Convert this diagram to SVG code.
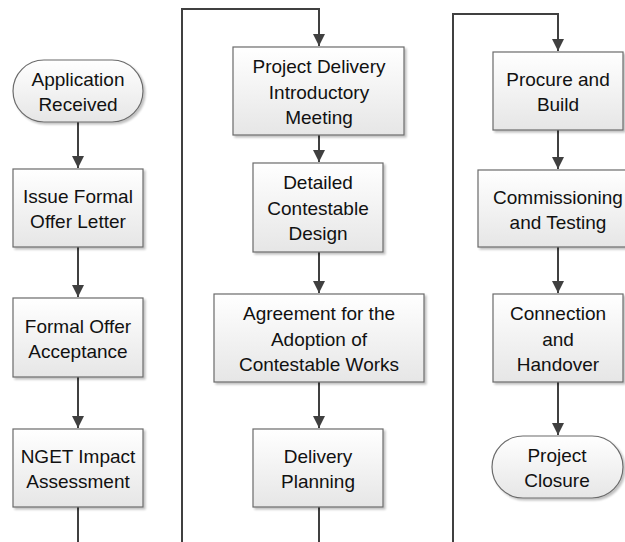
<svg xmlns="http://www.w3.org/2000/svg" width="625" height="542" viewBox="0 0 625 542">
<style>
.n{fill:url(#g);stroke:#6b6b6b;stroke-width:1.2;filter:url(#sh)}
.t{font-family:"Liberation Sans",Arial,sans-serif;font-size:19px;fill:#111;text-anchor:middle}
.c{fill:none;stroke:#404040;stroke-width:2}
</style>
<defs>
<linearGradient id="g" x1="0" y1="0" x2="0" y2="1">
<stop offset="0" stop-color="#ffffff"/>
<stop offset="1" stop-color="#e6e6e6"/>
</linearGradient>
<filter id="sh" x="-10%" y="-10%" width="130%" height="130%">
<feGaussianBlur in="SourceAlpha" stdDeviation="1"/>
<feOffset dx="2" dy="2" result="b"/>
<feComponentTransfer><feFuncA type="linear" slope="0.25"/></feComponentTransfer>
<feMerge><feMergeNode/><feMergeNode in="SourceGraphic"/></feMerge>
</filter>
<marker id="a" markerUnits="userSpaceOnUse" markerWidth="12" markerHeight="14" refX="12" refY="6" orient="auto">
<path d="M0,0 L12,6 L0,12 Z" fill="#404040"/>
</marker>
</defs>
<rect width="625" height="542" fill="#fff"/>
<g id="connectors">
<path class="c" d="M78,122 V168" marker-end="url(#a)"/>
<path class="c" d="M78,247 V297" marker-end="url(#a)"/>
<path class="c" d="M78,377 V428" marker-end="url(#a)"/>
<path class="c" d="M78,507 V542"/>
<path class="c" d="M182,542 V9 H319 V46" marker-end="url(#a)"/>
<path class="c" d="M319,135 V162" marker-end="url(#a)"/>
<path class="c" d="M319,252 V293" marker-end="url(#a)"/>
<path class="c" d="M319,382 V428" marker-end="url(#a)"/>
<path class="c" d="M319,507 V542"/>
<path class="c" d="M453,542 V14 H558 V51" marker-end="url(#a)"/>
<path class="c" d="M558,130 V169" marker-end="url(#a)"/>
<path class="c" d="M558,247 V293" marker-end="url(#a)"/>
<path class="c" d="M558,382 V435" marker-end="url(#a)"/>
</g>
<g id="n1"><rect class="n" x="13" y="60" width="130" height="62" rx="31"/><text class="t"><tspan x="78" y="86">Application</tspan><tspan x="78" y="111">Received</tspan></text></g>
<g id="n2"><rect class="n" x="13" y="169" width="130" height="78"/><text class="t"><tspan x="78" y="203">Issue Formal</tspan><tspan x="78" y="228">Offer Letter</tspan></text></g>
<g id="n3"><rect class="n" x="13" y="298" width="130" height="79"/><text class="t"><tspan x="78" y="333">Formal Offer</tspan><tspan x="78" y="358">Acceptance</tspan></text></g>
<g id="n4"><rect class="n" x="13" y="429" width="130" height="78"/><text class="t"><tspan x="78" y="463">NGET Impact</tspan><tspan x="78" y="488">Assessment</tspan></text></g>
<g id="n5"><rect class="n" x="233" y="47" width="171" height="88"/><text class="t"><tspan x="319" y="73">Project Delivery</tspan><tspan x="319" y="99">Introductory</tspan><tspan x="319" y="124">Meeting</tspan></text></g>
<g id="n6"><rect class="n" x="253" y="163" width="130" height="89"/><text class="t"><tspan x="318" y="189">Detailed</tspan><tspan x="318" y="215">Contestable</tspan><tspan x="318" y="240">Design</tspan></text></g>
<g id="n7"><rect class="n" x="214" y="294" width="210" height="88"/><text class="t"><tspan x="319" y="320">Agreement for the</tspan><tspan x="319" y="346">Adoption of</tspan><tspan x="319" y="371">Contestable Works</tspan></text></g>
<g id="n8"><rect class="n" x="253" y="429" width="130" height="78"/><text class="t"><tspan x="318" y="463">Delivery</tspan><tspan x="318" y="488">Planning</tspan></text></g>
<g id="n9"><rect class="n" x="493" y="52" width="130" height="78"/><text class="t"><tspan x="558" y="86">Procure and</tspan><tspan x="558" y="111">Build</tspan></text></g>
<g id="n10"><rect class="n" x="478" y="170" width="160" height="77"/><text class="t"><tspan x="558" y="204">Commissioning</tspan><tspan x="558" y="229">and Testing</tspan></text></g>
<g id="n11"><rect class="n" x="493" y="294" width="130" height="88"/><text class="t"><tspan x="558" y="320">Connection</tspan><tspan x="558" y="346">and</tspan><tspan x="558" y="371">Handover</tspan></text></g>
<g id="n12"><rect class="n" x="492" y="436" width="131" height="62" rx="31"/><text class="t"><tspan x="557" y="462">Project</tspan><tspan x="557" y="487">Closure</tspan></text></g>
</svg>
